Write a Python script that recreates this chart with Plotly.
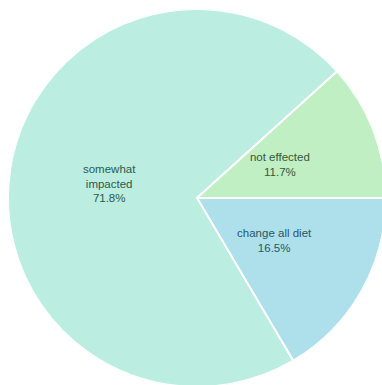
import numpy as np
import plotly.graph_objects as go

categories = ["change all diet", "somewhat impacted", "not effected"]
text_labels = ["change all diet", "somewhat<br>impacted", "not effected"]
values = [16.5, 71.8, 11.7]
colors = ["#ade0eb", "#bbede1", "#c0efc3"]
text_colors = ["#2b5566", "#2d5a50", "#35583a"]

vals = np.array(values, dtype=float)
share = vals / vals.sum()
widths = share * 360.0
mids = (np.cumsum(share) - share / 2) * 360.0
pct_text = [f"{lab}<br>{v:.1f}%" for lab, v in zip(text_labels, share * 100)]

fig = go.Figure()
fig.add_trace(go.Barpolar(
    r=[1] * len(vals),
    theta=mids,
    width=widths,
    marker=dict(color=colors, line=dict(color="white", width=2)),
    hovertext=categories,
    hoverinfo="text",
    showlegend=False,
))
fig.add_trace(go.Scatterpolar(
    r=[0.47] * len(vals),
    theta=mids,
    mode="text",
    text=pct_text,
    textfont=dict(color=text_colors, size=11.5, family="Liberation Sans, Arial, sans-serif"),
    hoverinfo="skip",
    showlegend=False,
))
fig.update_layout(
    width=386, height=388,
    margin=dict(l=8, r=0, t=9, b=1),
    paper_bgcolor="white",
    polar=dict(
        domain=dict(x=[0, 1], y=[0, 1]),
        bgcolor="white",
        bargap=0,
        hole=0,
        radialaxis=dict(range=[0, 1], visible=False, showgrid=False),
        angularaxis=dict(visible=False, showgrid=False, direction="clockwise", rotation=0),
    ),
)
fig.write_html(
    "out.html",
    config={"displayModeBar": False},
    post_script=(
        "document.body.style.margin='0';"
        "document.body.style.overflow='hidden';"
        "document.documentElement.style.overflow='hidden';"
    ),
)
